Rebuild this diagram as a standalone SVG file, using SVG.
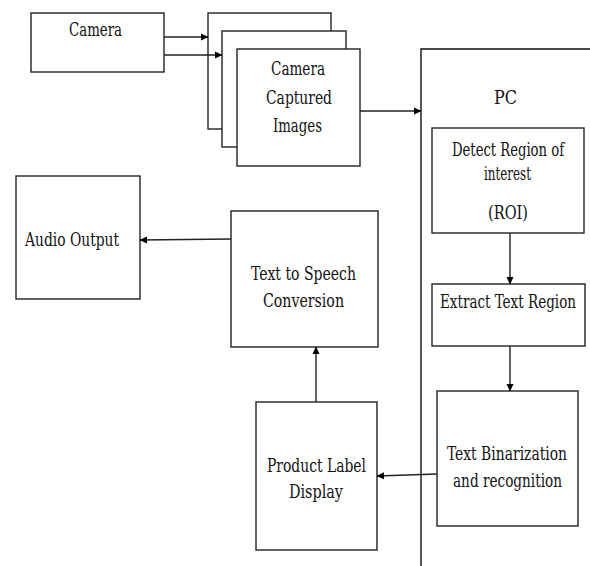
<svg xmlns="http://www.w3.org/2000/svg" width="590" height="566" viewBox="0 0 590 566">
<defs>
<marker id="ah" markerWidth="8" markerHeight="8" refX="7" refY="4" orient="auto" markerUnits="userSpaceOnUse">
<path d="M0,0.5 L7.5,4 L0,7.5 Z" fill="#000"/>
</marker>
</defs>
<style>
.box{fill:#fff;stroke:#222;stroke-width:1.4}
.c{stroke:#222;stroke-width:1.4;fill:none;marker-end:url(#ah)}
</style>
<rect width="590" height="566" fill="#fff"/>
<g font-family="DejaVu Serif Condensed, DejaVu Serif, Liberation Serif, serif" font-size="18" fill="#111">
<g id="pc">
<path d="M421,566 L421,49 L590,49" fill="none" stroke="#111" stroke-width="1.4"/>
<text x="494" y="104" textLength="23" lengthAdjust="spacingAndGlyphs">PC</text>
</g>
<g id="camera">
<rect class="box" x="31" y="13" width="133" height="59"/>
<text x="69" y="36" textLength="53" lengthAdjust="spacingAndGlyphs">Camera</text>
</g>
<g id="images">
<rect class="box" x="208" y="13" width="123" height="116"/>
<rect class="box" x="222" y="31" width="124" height="116"/>
<rect class="box" x="237" y="49" width="123" height="117"/>
<text x="271" y="75" textLength="54" lengthAdjust="spacingAndGlyphs">Camera</text>
<text x="266" y="104" textLength="66" lengthAdjust="spacingAndGlyphs">Captured</text>
<text x="273" y="132" textLength="49" lengthAdjust="spacingAndGlyphs">Images</text>
</g>
<g id="detect">
<rect class="box" x="432" y="128" width="152" height="105"/>
<text x="452" y="156" textLength="112" lengthAdjust="spacingAndGlyphs">Detect Region of</text>
<text x="484" y="180" textLength="47" lengthAdjust="spacingAndGlyphs">interest</text>
<text x="488" y="219" textLength="40" lengthAdjust="spacingAndGlyphs">(ROI)</text>
</g>
<g id="extract">
<rect class="box" x="432" y="284" width="153" height="62"/>
<text x="440" y="308" textLength="136" lengthAdjust="spacingAndGlyphs">Extract Text Region</text>
</g>
<g id="binarize">
<rect class="box" x="437" y="391" width="141" height="135"/>
<text x="447" y="460" textLength="120" lengthAdjust="spacingAndGlyphs">Text Binarization</text>
<text x="453" y="487" textLength="109" lengthAdjust="spacingAndGlyphs">and recognition</text>
</g>
<g id="label">
<rect class="box" x="256" y="402" width="121" height="148"/>
<text x="267" y="472" textLength="99" lengthAdjust="spacingAndGlyphs">Product Label</text>
<text x="289" y="498" textLength="54" lengthAdjust="spacingAndGlyphs">Display</text>
</g>
<g id="tts">
<rect class="box" x="231" y="211" width="147" height="136"/>
<text x="251" y="280" textLength="105" lengthAdjust="spacingAndGlyphs">Text to Speech</text>
<text x="263" y="307" textLength="81" lengthAdjust="spacingAndGlyphs">Conversion</text>
</g>
<g id="audio">
<rect class="box" x="16" y="176" width="124" height="123"/>
<text x="25" y="246" textLength="94" lengthAdjust="spacingAndGlyphs">Audio Output</text>
</g>
</g>
<g id="connectors">
<line class="c" x1="164" y1="37" x2="208" y2="37"/>
<line class="c" x1="164" y1="55" x2="222" y2="55"/>
<line class="c" x1="360" y1="111" x2="421" y2="111"/>
<line class="c" x1="510" y1="233" x2="510" y2="284"/>
<line class="c" x1="510" y1="346" x2="510" y2="391"/>
<line class="c" x1="437" y1="474" x2="377" y2="476"/>
<line class="c" x1="316" y1="402" x2="316" y2="347"/>
<line class="c" x1="231" y1="239" x2="140" y2="240"/>
</g>
</svg>
